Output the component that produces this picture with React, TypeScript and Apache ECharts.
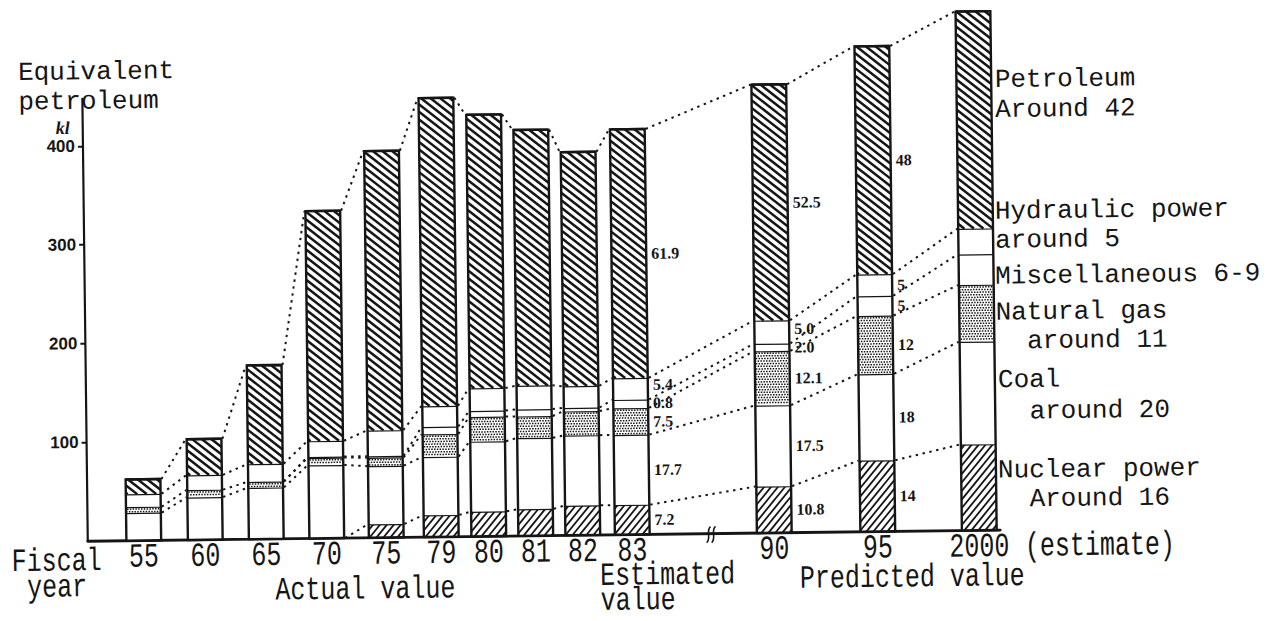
import React, { useEffect, useRef } from 'react';
import * as echarts from 'echarts';

// ---- data (unit: million kl, oil equivalent) ----
const years = ['55', '60', '65', '70', '75', '79', '80', '81', '82', '83', '90', '95', '2000'];
// plotting slot of each fiscal year along the (broken) horizontal axis
const slots = [0, 1.008, 2.008, 3.0, 3.975, 4.877, 5.656, 6.426, 7.197, 8.008, 10.336, 12.033, 13.697];
const nuclear = [0, 0, 0, 0, 13.5, 22, 25, 27, 30, 30, 47, 72, 87];
const coal = [28, 43, 52, 74, 59, 59, 71, 72, 71, 71, 82, 87.5, 104];
const naturalGas = [6, 7.5, 6, 7.5, 8.5, 23, 25, 22, 24.5, 27, 55, 59, 57.5];
const miscellaneous = [0, 0, 0, 1, 1.5, 7.5, 6, 7, 3.5, 8.5, 7.5, 20, 31];
const hydraulic = [13, 15, 18, 16, 26, 21, 23, 24, 22, 22, 23.5, 22, 26];
const petroleum = [15, 36.5, 100, 233, 283, 312, 277, 259, 237, 252, 239, 231, 220];
// share (%) labels, bottom segment first: nuclear, coal, gas, misc, hydro, petroleum
const shareLabels: Record<string, string[]> = {
  '83': ['7.2', '17.7', '7.5', '0.8', '5.4', '61.9'],
  '90': ['10.8', '17.5', '12.1', '2.0', '5.0', '52.5'],
  '95': ['14', '18', '12', '5', '5', '48'],
};
const yearNotes: Record<string, string> = { '2000': '(estimate)' };
const yTicks = [100, 200, 300, 400];
const breakSlot = 9.3;

// ---- styling ----
const INK = '#151515';
const MONO = '"Liberation Mono", "DejaVu Sans Mono", monospace';
const SERIF = '"Liberation Serif", "DejaVu Serif", serif';
const BAR_W = 0.57;
const ROT_DEG = -0.7;
const LABEL_GAP = 18.5;

function segValues(i: number) {
  return [nuclear[i], coal[i], naturalGas[i], miscellaneous[i], hydraulic[i], petroleum[i]];
}

function hatchLines(x0: number, y0: number, x1: number, y1: number, m: number, step: number, lw: number) {
  const out: any[] = [];
  const cs = [y0 - m * x0, y0 - m * x1, y1 - m * x0, y1 - m * x1];
  const cmin = Math.min(...cs);
  const cmax = Math.max(...cs);
  const start = Math.ceil(cmin / step) * step;
  for (let c = start; c <= cmax; c += step) {
    let xa: number, xb: number;
    if (m > 0) {
      xa = Math.max(x0, (y0 - c) / m);
      xb = Math.min(x1, (y1 - c) / m);
    } else {
      xa = Math.max(x0, (y1 - c) / m);
      xb = Math.min(x1, (y0 - c) / m);
    }
    if (xb - xa > 0.6) {
      out.push({
        type: 'line',
        shape: { x1: xa, y1: m * xa + c, x2: xb, y2: m * xb + c },
        style: { stroke: INK, lineWidth: lw },
      });
    }
  }
  return out;
}

function stipple(x0: number, y0: number, x1: number, y1: number) {
  const out: any[] = [];
  let r = 0;
  for (let y = y0 + 2.1; y < y1 - 1; y += 2.6, r++) {
    out.push({
      type: 'line',
      shape: { x1: x0 + 1, y1: y, x2: x1 - 1, y2: y },
      style: { stroke: INK, lineWidth: 1.5, lineDash: [1.5, 1.3], lineDashOffset: r % 2 ? 1.4 : 0 },
    });
  }
  return out;
}

function renderBar(params: any, api: any) {
  const i = params.dataIndex;
  const s = api.value(0);
  const vals = [1, 2, 3, 4, 5, 6].map((k) => api.value(k) as number);
  const base = api.coord([s, 0]);
  const cx = base[0];
  const y0 = base[1];
  const w = api.size([BAR_W, 0])[0];
  const x0 = cx - w / 2;
  const x1 = cx + w / 2;
  const children: any[] = [];
  const labels = shareLabels[years[i]];
  const mids: { k: number; y: number }[] = [];
  let cum = 0;
  let yPrev = y0;
  vals.forEach((v, k) => {
    if (v <= 0) return;
    cum += v;
    const yTop = api.coord([s, cum])[1];
    children.push({
      type: 'rect',
      shape: { x: x0, y: yTop, width: w, height: yPrev - yTop },
      style: { fill: '#ffffff' },
    });
    if (k === 5) children.push(...hatchLines(x0, yTop, x1, yPrev, 0.8, 7.6, 2.5));
    if (k === 0) children.push(...hatchLines(x0, yTop, x1, yPrev, -1.2, 8.4, 1.8));
    if (k === 2) children.push(...stipple(x0, yTop, x1, yPrev));
    children.push({
      type: 'line',
      shape: { x1: x0, y1: yTop, x2: x1, y2: yTop },
      style: { stroke: INK, lineWidth: 2.4 },
    });
    mids.push({ k, y: (yTop + yPrev) / 2 });
    yPrev = yTop;
  });
  children.push({
    type: 'rect',
    shape: { x: x0, y: yPrev, width: w, height: y0 - yPrev },
    style: { fill: 'none', stroke: INK, lineWidth: 2.4 },
  });
  if (labels) {
    // keep stacked share labels apart (bottom segment first)
    let last = Infinity;
    mids.forEach(({ k, y }) => {
      const ly = Math.min(y, last - LABEL_GAP);
      last = ly;
      children.push({
        type: 'text',
        x: x1 + 5,
        y: ly,
        style: {
          text: labels[k],
          fill: INK,
          font: `bold 16px ${SERIF}`,
          textAlign: 'left',
          textVerticalAlign: 'middle',
          align: 'left',
          verticalAlign: 'middle',
        },
      });
    });
  }
  // fiscal year label under the bar
  children.push({
    type: 'text',
    x: cx,
    y: y0 + 17,
    scaleY: 1.35,
    style: {
      text: years[i],
      fill: INK,
      font: `25px ${MONO}`,
      textAlign: 'center',
      textVerticalAlign: 'middle',
      align: 'center',
      verticalAlign: 'middle',
    },
  });
  const note = yearNotes[years[i]];
  if (note) {
    children.push({
      type: 'text',
      x: x1 + 28,
      y: y0 + 17,
      scaleY: 1.35,
      style: {
        text: note,
        fill: INK,
        font: `25px ${MONO}`,
        textAlign: 'left',
        textVerticalAlign: 'middle',
        align: 'left',
        verticalAlign: 'middle',
      },
    });
  }
  return { type: 'group', children };
}

function renderConnectors(params: any, api: any) {
  const i = params.dataIndex;
  const a = segValues(i);
  const b = segValues(i + 1);
  const wA = api.size([BAR_W, 0])[0];
  const children: any[] = [];
  let ca = 0;
  let cb = 0;
  for (let k = 0; k < 6; k++) {
    ca += a[k];
    cb += b[k];
    if (a[k] <= 0 && b[k] <= 0) continue;
    const pa = api.coord([slots[i], ca]);
    const pb = api.coord([slots[i + 1], cb]);
    children.push({
      type: 'line',
      shape: { x1: pa[0] + wA / 2 + 1, y1: pa[1], x2: pb[0] - wA / 2 - 1, y2: pb[1] },
      style: { stroke: INK, lineWidth: 2, lineDash: [2.4, 4.6] },
    });
  }
  return { type: 'group', children };
}

function renderBreak(params: any, api: any) {
  const p = api.coord([api.value(0), 0]);
  const x = p[0];
  const y = p[1];
  const mk = (dx: number) => ({
    type: 'bezierCurve',
    shape: { x1: x + dx - 2, y1: y + 9, x2: x + dx + 2, y2: y - 7, cpx1: x + dx + 3, cpy1: y + 5, cpx2: x + dx - 3, cpy2: y - 3 },
    style: { stroke: INK, lineWidth: 1.6, fill: 'none' },
  });
  return { type: 'group', children: [mk(-2.5), mk(2.5)] };
}

function txt(text: string, x: number, y: number, opts: any = {}) {
  return {
    type: 'text',
    x,
    y,
    scaleY: opts.scaleY ?? 1,
    style: {
      text,
      fill: INK,
      font: opts.font ?? `26px ${MONO}`,
      lineHeight: opts.lineHeight,
      textAlign: opts.align ?? 'left',
      textVerticalAlign: 'middle',
      align: opts.align ?? 'left',
      verticalAlign: 'middle',
    },
  };
}

export default function App() {
  const ref = useRef<HTMLDivElement>(null);
  useEffect(() => {
    document.body.style.margin = '0';
    if (!ref.current) return;
    const chart = echarts.init(ref.current, undefined, { renderer: 'svg' });
    const barData = years.map((_, i) => [slots[i], ...segValues(i)]);
    const stretched = { font: `25px ${MONO}`, scaleY: 1.3 };
    chart.setOption({
      animation: false,
      backgroundColor: '#ffffff',
      grid: { left: 85, right: 278.5, top: 92, bottom: 86.6, containLabel: false, outerBoundsMode: 'none' },
      xAxis: {
        type: 'value',
        min: -0.918,
        max: 14.04,
        axisLine: { show: true, onZero: false, lineStyle: { color: INK, width: 2.8 } },
        axisTick: { show: false },
        axisLabel: { show: false },
        splitLine: { show: false },
      },
      yAxis: {
        type: 'value',
        min: 0,
        max: 448,
        axisLine: { show: true, onZero: false, lineStyle: { color: INK, width: 2.2 } },
        axisTick: { show: true, customValues: yTicks, length: 5, lineStyle: { color: INK, width: 2 } },
        axisLabel: {
          customValues: yTicks,
          color: INK,
          fontFamily: '"Liberation Sans", Arial, sans-serif',
          fontWeight: 'bold',
          fontSize: 17,
          margin: 8,
        },
        splitLine: { show: false },
      },
      series: [
        {
          type: 'custom',
          name: 'connectors',
          z: 1,
          clip: false,
          data: years.slice(0, -1).map((_, i) => [slots[i], 0]),
          renderItem: renderConnectors,
        },
        {
          type: 'custom',
          name: 'supply',
          z: 2,
          clip: false,
          data: barData,
          renderItem: renderBar,
        },
        {
          type: 'custom',
          name: 'axisBreak',
          z: 3,
          clip: false,
          data: [[breakSlot, 0]],
          renderItem: renderBreak,
        },
      ],
      graphic: [
        txt('Equivalent\npetroleum', 21, 80.25, { lineHeight: 29.5 }),
        txt('kl', 58, 121, { font: `italic bold 18px ${SERIF}` }),
        txt('Petroleum\nAround 42', 997.6, 99.4, { lineHeight: 30 }),
        txt('Hydraulic power\naround 5', 996, 230.5, { lineHeight: 29 }),
        txt('Miscellaneous 6-9', 995.5, 281),
        txt('Natural gas\n  around 11', 995.5, 331.5, { lineHeight: 29 }),
        txt('Coal\n  around 20', 997.1, 400.5, { lineHeight: 31.5 }),
        txt('Nuclear power\n  Around 16', 996, 489.5, { lineHeight: 29 }),
        txt('Fiscal\n year', 8.7, 568, { ...stretched, lineHeight: 20 }),
        txt('Actual value', 362, 586.7, { ...stretched, align: 'center' }),
        txt('Estimated\nvalue', 597, 588.5, { ...stretched, lineHeight: 19.2 }),
        txt('Predicted value', 909, 581.3, { ...stretched, align: 'center' }),
      ],
    });
    return () => chart.dispose();
  }, []);
  return (
    <div
      ref={ref}
      style={{
        width: 1276,
        height: 621,
        background: '#ffffff',
        transform: `rotate(${ROT_DEG}deg)`,
        transformOrigin: '638px 310.5px',
      }}
    />
  );
}
